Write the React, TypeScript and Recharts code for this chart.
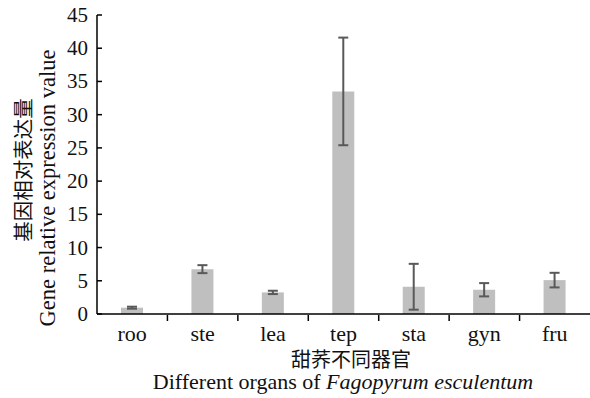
import React from 'react';
import { BarChart, Bar, XAxis, YAxis, ErrorBar } from 'recharts';

const categories = ['roo', 'ste', 'lea', 'tep', 'sta', 'gyn', 'fru'];
const values = [0.95, 6.75, 3.25, 33.5, 4.1, 3.65, 5.1];
const errors = [0.15, 0.6, 0.25, 8.1, 3.45, 1.0, 1.1];
const yTicks = [0, 5, 10, 15, 20, 25, 30, 35, 40, 45];

const data = categories.map((c, i) => ({ name: c, value: values[i], err: errors[i] }));

const serif = '"Liberation Serif", "Times New Roman", serif';
const cjk = '"Noto Sans CJK SC", sans-serif';
const ink = '#111';

const renderXTick = (props: any) => {
  const { x, y, payload, index } = props;
  const off = payload && typeof payload.offset === 'number' ? payload.offset : 0;
  return (
    <g key={`xt-${index}`}>
      <text x={x} y={y} dy={19} textAnchor="middle" style={{ fontFamily: serif, fontSize: 22 }} fill={ink}>
        {payload.value}
      </text>
      {index < categories.length - 1 && (
        <line x1={x + off} x2={x + off} y1={y - 1} y2={y - 7} stroke="#000" strokeWidth={1.5} />
      )}
    </g>
  );
};

const renderYTick = (props: any) => {
  const { x, y, payload, index } = props;
  return (
    <g key={`yt-${index}`}>
      <text x={x} y={y} dy={7} textAnchor="end" style={{ fontFamily: serif, fontSize: 21 }} fill={ink}>
        {String(payload.value)}
      </text>
    </g>
  );
};

const YLabel = () => (
  <g>
    <text
      x={22}
      y={170}
      transform="rotate(-90, 22, 170)"
      textAnchor="middle"
      dominantBaseline="central"
      style={{ fontFamily: cjk, fontSize: 20.5 }}
      fill={ink}
    >
      基因相对表达量
    </text>
    <text
      x={55}
      y={188}
      transform="rotate(-90, 55, 188)"
      textAnchor="middle"
      style={{ fontFamily: serif, fontSize: 22.5 }}
      fill={ink}
    >
      Gene relative expression value
    </text>
  </g>
);

const XLabel = () => (
  <g>
    <text x={351} y={367} textAnchor="middle" style={{ fontFamily: cjk, fontSize: 20 }} fill={ink}>
      甜荞不同器官
    </text>
    <text x={343} y={389} textAnchor="middle" style={{ fontFamily: serif, fontSize: 22 }} fill={ink}>
      <tspan>Different organs of </tspan>
      <tspan fontStyle="italic">Fagopyrum esculentum</tspan>
    </text>
  </g>
);

export default function App() {
  return (
    <div style={{ position: 'absolute', left: 0, top: 0, width: 590, height: 398, background: '#fff', fontFamily: serif }}>
      <BarChart width={590} height={398} data={data} margin={{ top: 15, right: 0, left: 0, bottom: 0 }} barCategoryGap={0}>
        <XAxis
          dataKey="name"
          height={84}
          tickLine={false}
          axisLine={{ stroke: '#000', strokeWidth: 1.5 }}
          tick={renderXTick}
          interval={0}
          label={<XLabel />}
        />
        <YAxis
          width={97}
          domain={[0, 45]}
          ticks={yTicks}
          interval={0}
          tickSize={-5}
          tickMargin={14}
          tickLine={{ stroke: '#000', strokeWidth: 1.5 }}
          axisLine={{ stroke: '#000', strokeWidth: 1.5 }}
          tick={renderYTick}
          label={<YLabel />}
        />
        <Bar dataKey="value" fill="#bfbfbf" barSize={22} isAnimationActive={false}>
          <ErrorBar dataKey="err" width={5} stroke="#595959" strokeWidth={2} direction="y" />
        </Bar>
      </BarChart>
    </div>
  );
}
